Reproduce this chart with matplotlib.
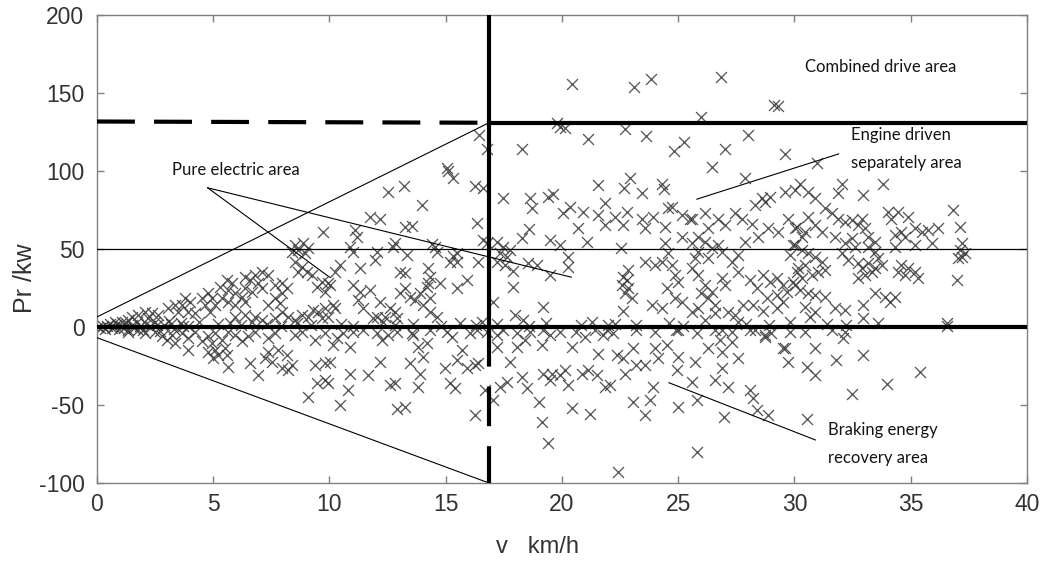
import numpy as np
import matplotlib
matplotlib.use("Agg")
import matplotlib.pyplot as plt

plt.rcParams["axes.unicode_minus"] = False

# ---- operating points: vehicle speed (km/h) and required power (kW) ----
# low-speed traction points (0-20 km/h, P > 0)
low_drive_v = [0.05, 0.15, 0.25, 0.35, 0.45, 0.55, 0.65, 0.75, 0.85, 0.95, 1.05, 1.15, 1.25, 1.35,
               1.5, 1.6, 1.7, 1.85, 2.0, 2.1, 2.3, 2.5, 2.7, 2.9, 3.1, 3.3, 3.6, 3.9,
               2.6, 3.2, 3.7, 4.4, 5.2, 5.7, 6.2, 7.3, 7.9, 8.6, 9.2, 10.5, 11.0, 12.8, 13.6,
               14.8, 15.6, 16.3, 17.2, 18.6, 19.3, 20.8,
               9.73, 8.52, 8.87, 8.37, 8.66, 8.95, 9.09, 8.52, 8.8, 9.02, 8.66,
               7.66, 7.94, 8.16, 7.94, 9.23, 9.66, 9.45, 9.81, 9.95,
               7.08, 7.37, 6.8, 6.58, 6.37, 6.94, 7.08, 6.65, 6.37,
               5.58, 5.79, 5.29, 5.65, 5.94, 5.36, 5.65, 6.22, 6.37, 5.94,
               4.79, 4.93, 4.5, 4.65, 5.08, 4.86,
               3.78, 4.0, 3.64, 3.35, 3.07, 3.5, 3.93, 4.22,
               2.06, 2.35, 1.78, 1.49, 2.64, 2.21, 1.35, 1.06, 0.77,
               9.3, 9.52, 9.81, 9.09, 9.66, 9.95,
               7.94, 8.23, 7.66, 8.52, 8.8,
               5.94, 6.37, 6.8, 7.08, 6.65,
               7.66, 7.87, 7.37,
               15.11, 15.33, 12.53, 13.2, 13.97, 16.26, 16.62, 17.48, 18.62, 18.7, 19.41, 19.63,
               20.06, 11.74, 12.17, 16.33, 13.25, 13.54, 11.1, 11.17, 12.82, 12.74, 14.4, 14.54,
               16.62, 16.76, 17.19, 17.48, 17.76, 17.33, 17.62, 18.27, 18.59, 19.48, 19.91,
               10.88, 11.03, 12.03, 11.96, 13.32, 14.61, 15.33, 15.47, 15.18, 15.47, 16.4,
               17.19, 17.55, 17.9, 18.55, 18.91, 19.48, 10.45, 10.24, 11.31, 13.03, 13.25,
               14.25, 14.32, 14.75, 14.25, 15.9, 15.47, 17.9, 19.2, 17.05, 17.98, 18.34,
               10.02, 10.16, 10.24, 11.02, 11.31, 11.74, 11.24, 11.45, 12.03, 12.31,
               13.03, 13.25, 13.46, 13.68, 13.89, 14.18, 14.32, 14.04, 14.32, 14.61,
               12.17, 12.6, 12.82, 12.89, 11.88, 12.39, 16.55,
               16.44, 16.76, 18.27, 15.04, 19.77, 19.91]
low_drive_p = [0.3, -0.5, 1.0, -1.2, 0.6, 1.8, -0.8, 0.2, 2.2, -1.5, 1.0, -0.3, 2.5, -2.0,
               1.4, -0.9, 3.0, 0.5, -1.8, 2.0, 0.8, 3.5, -2.5, 1.2, 4.0, -1.0, 2.8, 0.6,
               1.5, 2.2, 1.0, 3.0, 1.8, 2.6, 1.2, 2.0, 1.0, 2.4, 1.5, 2.0, 1.0, 1.6, 2.2,
               1.0, 2.6, 1.2, 1.8, 1.0, 2.4, 1.6,
               61.1, 52.6, 53.7, 48.3, 49.4, 47.2, 50.4, 41.9, 38.7, 35.5, 35.5,
               26.9, 28.0, 24.8, 21.6, 33.3, 29.0, 25.8, 22.6, 28.0,
               35.5, 33.3, 33.3, 30.1, 32.2, 28.0, 24.8, 22.6, 24.8,
               30.1, 28.0, 25.8, 23.7, 21.6, 18.4, 16.2, 19.4, 16.2, 14.1,
               21.6, 18.4, 18.4, 14.1, 14.1, 9.8,
               18.4, 16.2, 14.1, 14.1, 12.0, 9.8, 9.8, 8.8,
               9.8, 8.8, 7.7, 6.6, 7.7, 5.6, 4.5, 3.4, 3.4,
               10.9, 9.8, 12.0, 6.6, 5.6, 6.6,
               9.8, 6.6, 5.6, 4.5, 7.7,
               6.6, 7.7, 6.6, 4.5, 3.4,
               18.4, 15.2, 14.1,
               100.0, 95.7, 86.7, 90.6, 78.2, 90.6, 89.3, 82.9, 82.9, 76.5, 83.5, 85.0,
               72.9, 70.7, 69.2, 66.5, 64.3, 64.7, 62.2, 57.9, 53.7, 51.5, 53.0, 51.5,
               55.8, 53.7, 54.7, 51.5, 49.4, 47.2, 45.1, 57.3, 62.8, 55.8, 52.6,
               51.5, 48.3, 48.3, 42.9, 46.2, 47.9, 45.7, 47.2, 41.5, 41.9, 41.9,
               41.9, 39.7, 35.9, 40.8, 39.7, 33.3, 39.7, 35.4, 38.0, 35.0, 34.4,
               37.6, 32.2, 28.0, 28.0, 30.1, 24.8, 25.8, 13.0, 16.2, 7.7, 4.5,
               26.9, 14.1, 12.0, 26.9, 22.6, 23.7, 17.3, 12.0, 6.6, 3.4,
               21.6, 24.8, 19.4, 17.3, 21.6, 25.8, 18.4, 14.1, 9.8, 6.6,
               16.2, 12.0, 9.8, 5.6, 5.6, 6.6, 3.4,
               123.0, 113.9, 113.9, 101.7, 130.6, 128.4]

# low-speed braking points (0-20 km/h, P < 0)
low_brake_v = [1.35, 1.78, 2.06, 2.49, 2.78, 2.99, 3.21, 3.35, 3.64, 3.93, 4.22, 4.5, 4.79,
               5.08, 5.36, 5.65, 5.94, 6.22, 6.51, 6.8, 7.37, 7.66, 8.52, 8.8, 9.38, 9.81,
               3.93, 4.93, 5.08, 5.0, 4.79, 5.22, 5.5, 5.58, 5.65,
               6.58, 6.94, 7.23, 7.37, 7.51, 7.8, 7.94, 8.16, 8.37, 8.23,
               9.09, 9.38, 9.81, 9.45, 9.81, 9.95,
               11.45, 12.03, 12.89, 13.6, 14.32, 15.04, 16.04, 16.33, 16.76, 17.19, 17.48,
               18.05, 18.62, 19.2, 19.48, 19.91,
               10.31, 10.16, 10.59, 11.02, 10.88, 10.02, 10.88, 11.67, 12.17, 10.81, 10.45,
               12.24, 12.53, 13.54, 13.46, 13.82, 14.18, 14.04, 13.89,
               12.6, 12.82, 13.82, 12.89, 13.25,
               14.97, 15.18, 15.4, 15.47, 15.69, 15.9, 16.26, 16.4, 15.25, 16.26,
               16.69, 17.05, 17.33, 17.62, 17.19, 17.76, 18.05, 18.41, 18.27, 18.48,
               19.13, 19.2, 19.48, 19.56, 19.91, 19.0, 19.13, 19.41]
low_brake_p = [-3, -2, -4, -3, -6, -8, -5, -10, -4, -7, -3, -9, -6,
               -4, -8, -3, -5, -9, -6, -3, -7, -4, -5, -3, -8, -4,
               -14.7, -10.5, -14.7, -20.1, -15.8, -18.0, -13.7, -18.0, -25.4,
               -23.3, -30.8, -20.1, -15.8, -22.2, -14.7, -26.5, -18.0, -24.4, -27.6,
               -44.7, -24.4, -23.3, -36.1, -33.9, -36.1,
               -2, -4, -3, -5, -2, -3, -4, -2, -3, -5, -2,
               -4, -3, -2, -5, -3,
               -7.3, -11.5, -4.1, -3.0, -12.6, -22.2, -29.8, -30.8, -22.2, -40.5, -50.1,
               -8.4, -5.2, -4.1, -23.3, -12.6, -10.5, -19.0, -29.8,
               -37.2, -36.1, -38.3, -52.3, -51.2,
               -26.5, -36.1, -39.3, -21.2, -14.7, -26.5, -24.4, -23.3, -6.2, -56.4,
               -40.5, -46.9, -38.3, -35.1, -12.6, -22.2, -12.6, -8.4, -31.9, -39.3,
               -11.5, -29.8, -34.1, -29.8, -30.8, -47.9, -60.7, -74.6]

# high-speed traction points (20-40 km/h, P > 0)
high_drive_v = [20.44, 23.1, 23.83, 26.82, 26.0, 29.13, 29.3, 20.13, 21.1, 22.7, 23.6,
                24.83, 25.26, 27.0, 27.99, 29.6, 26.44, 30.95,
                21.57, 22.93, 22.68, 23.43, 24.29, 24.4, 27.87,
                20.34, 20.92, 21.85, 21.56, 22.28, 21.85, 22.78, 22.64, 23.43, 23.57, 23.93,
                24.43, 24.57, 24.72, 25.15, 25.5, 25.58,
                20.7, 21.06, 20.27, 20.27, 22.54,
                26.15, 26.72, 26.29, 27.01, 27.44, 27.73, 28.16, 28.59, 28.73, 28.95, 28.3,
                29.59, 30.02, 29.73, 28.87, 29.3, 30.02, 28.44,
                25.15, 25.58, 25.86, 26.15, 26.44, 26.72, 26.87, 25.86, 25.72, 26.29, 27.3,
                27.58, 27.87, 27.58, 24.43, 24.57, 24.29,
                23.57, 24.0, 24.72, 24.86, 25.0, 24.5,
                22.85, 22.64, 22.78, 22.57, 22.85, 22.71, 23.0, 22.64, 23.86, 24.29,
                25.58, 25.86, 26.15, 26.0, 26.44, 26.87, 27.01, 26.29, 26.58, 25.86, 25.58,
                25.15, 24.86, 26.58, 26.15, 27.16, 27.44, 27.58,
                28.08, 28.37, 28.66, 28.95, 29.23, 29.52, 29.66, 29.23, 28.8, 28.23, 28.66,
                29.23, 29.52, 29.95, 30.09, 29.81, 29.95, 27.8,
                21.27, 21.99,
                30.24, 30.59, 30.88, 32.03, 31.88, 32.96, 33.82,
                31.31, 31.6, 31.88, 32.17, 32.46, 32.75, 33.03, 32.89, 30.59, 30.88, 30.45,
                31.17, 31.74, 30.09, 30.31,
                34.03, 34.46, 34.17, 34.89, 35.18, 34.6, 34.32, 34.75, 35.47, 35.75, 36.18,
                35.9, 35.18, 34.32,
                36.83, 37.12, 37.19, 37.12, 37.33, 37.05, 37.19, 36.97,
                33.17, 33.46, 33.17, 33.46, 33.6, 33.75, 33.46, 33.32, 33.03, 32.75, 32.75,
                32.89, 33.17,
                32.6, 32.46, 32.17, 32.03, 32.32,
                30.02, 30.31, 30.59, 30.88, 31.17, 31.31, 31.02, 30.74, 30.45, 30.16, 30.31,
                30.02, 30.24, 30.59, 30.88, 31.31, 30.45, 30.88, 31.74, 32.17, 32.96, 32.96,
                30.67,
                34.6, 34.89, 34.75, 35.18, 35.32, 34.46, 33.46, 33.89, 34.1, 34.32,
                36.54, 36.55,
                22.3, 23.2, 24.6, 25.2, 27.9, 28.9, 29.8, 31.4, 32.2, 33.6]
high_drive_p = [155.8, 154.0, 158.8, 160.5, 134.8, 142.7, 141.7, 127.4, 120.3, 126.9, 122.4,
                112.8, 118.4, 113.9, 123.0, 110.9, 102.8, 104.9,
                91.4, 95.3, 89.3, 85.7, 91.9, 88.3, 95.3,
                77.2, 73.9, 79.3, 71.8, 70.7, 65.3, 73.9, 65.3, 69.6, 63.2, 70.7,
                64.3, 76.1, 77.2, 72.0, 69.6, 69.6,
                63.2, 54.7, 45.1, 38.7, 50.4,
                72.9, 69.6, 63.2, 65.3, 72.9, 69.6, 66.4, 82.5, 80.3, 83.5, 78.2,
                86.8, 87.8, 69.6, 63.2, 61.1, 63.2, 57.9,
                57.9, 53.6, 57.9, 54.7, 50.4, 52.5, 48.3, 48.3, 44.0, 44.0, 41.9,
                46.2, 54.7, 35.5, 53.6, 47.2, 41.9,
                41.9, 39.7, 39.7, 33.4, 29.1, 24.8,
                36.5, 32.3, 30.1, 26.9, 24.8, 21.6, 18.4, 10.0, 14.2, 12.0,
                37.6, 33.4, 26.9, 21.6, 22.6, 31.2, 26.9, 18.4, 14.2, 12.0, 9.9,
                16.3, 18.4, 8.8, 4.5, 9.9, 7.7, 3.4,
                30.1, 24.8, 33.4, 29.1, 31.2, 26.9, 22.6, 20.6, 18.4, 14.2, 10.0,
                12.0, 16.3, 29.1, 35.5, 46.2, 52.5, 14.2,
                3.4, 1.3,
                92.0, 86.7, 82.5, 92.0, 85.7, 84.6, 92.0,
                76.1, 72.9, 69.6, 67.5, 68.5, 65.3, 63.2, 69.6, 70.7, 65.3, 61.1,
                61.1, 57.9, 64.3, 57.9,
                74.0, 74.0, 69.6, 70.7, 63.2, 61.1, 58.9, 57.9, 61.1, 62.1, 63.2,
                53.6, 52.6, 51.5,
                75.0, 64.3, 53.6, 49.4, 47.2, 44.0, 45.1, 30.1,
                57.9, 54.7, 51.5, 48.3, 44.0, 39.8, 37.6, 35.5, 33.4, 31.2, 40.8,
                37.6, 40.8,
                51.5, 56.8, 53.6, 47.2, 42.9,
                52.6, 49.4, 47.2, 45.1, 41.9, 36.5, 35.5, 33.4, 39.7, 37.6, 31.2,
                26.9, 23.7, 21.6, 20.5, 19.5, 13.1, 9.9, 12.0, 11.0, 14.2, 5.6,
                6.7,
                39.7, 37.6, 33.4, 35.5, 31.2, 35.5, 21.6, 19.5, 16.3, 19.5,
                2.4, 0.4,
                2.0, 1.2, 2.6, 1.0, 2.0, 1.4, 3.0, 2.0, 1.5, 2.5]

# high-speed braking points (20-40 km/h, P < 0)
high_brake_v = [20.42, 20.99, 21.77, 21.92,
                20.13, 20.27, 20.84, 21.13, 21.49, 21.85, 22.06, 21.56, 22.35, 22.63, 23.06,
                22.71, 23.2, 23.55, 23.98, 24.13, 23.91,
                20.42, 21.2, 23.06, 23.78, 23.57, 22.43,
                24.5, 25.0, 24.93, 25.72, 25.58, 25.79, 25.0, 26.29, 26.8, 26.87, 27.3, 27.58,
                26.87, 26.58, 27.16, 26.95, 25.79, 28.08, 28.23, 28.37, 28.87, 28.73, 28.08,
                28.73, 29.59, 29.52, 29.73, 26.87, 25.0,
                30.45, 31.6, 32.17, 32.1, 30.88, 31.8, 32.95, 30.52, 30.88, 35.4, 33.97, 32.47,
                30.52,
                20.6, 21.4, 22.2, 23.2, 24.0, 24.9, 25.8, 26.6, 27.3, 28.3, 29.0, 29.8]
high_brake_p = [-12.6, -6.2, -5.2, -2.0,
                -27.6, -37.2, -29.8, -27.6, -30.8, -38.3, -37.2, -17.0, -18.0, -20.1, -13.7,
                -29.8, -24.4, -24.4, -13.7, -20.1, -38.3,
                -52.1, -56.0, -47.9, -46.9, -56.4, -92.7,
                -11.5, -18.9, -27.4, -22.2, -35.0, -46.7, -51.0, -13.6, -8.3, -15.8, -9.4, -20.0,
                -26.4, -33.9, -38.2, -57.4, -79.9, -40.3, -45.7, -53.1, -56.3, -5.1, -1.9,
                -6.2, -13.6, -13.6, -22.2, -1.9, -1.9,
                -3.0, -2.0, -3.0, -7.3, -13.7, -21.2, -18.0, -25.4, -30.8, -28.6, -36.8, -43.2,
                -59.0,
                -3, -2, -4, -2, -3, -2, -4, -2, -3, -2, -4, -3]

# ---- mode boundaries ----
v_switch = 16.86        # speed limit of pure electric driving
p_motor_max = 131.0     # peak motor power
p_engine_opt = 50.0     # engine optimum power line
p_min_regen = -100.0

x_ticks = [0, 5, 10, 15, 20, 25, 30, 35, 40]
y_ticks = [-100, -50, 0, 50, 100, 150, 200]

v_all = np.concatenate([low_drive_v, low_brake_v, high_drive_v, high_brake_v])
p_all = np.concatenate([low_drive_p, low_brake_p, high_drive_p, high_brake_p])

fig = plt.figure(figsize=(10.44, 5.61), dpi=100)
ax = fig.add_axes([0.0929, 0.139, 0.8908, 0.834])

ax.scatter(v_all, p_all, marker="x", s=62, linewidths=0.95,
           color="#3a3a3a", alpha=0.85, zorder=2)

thick = 3.0
# zero-power line and upper limit lines
ax.plot([0, 40], [0, 0], color="black", lw=thick, zorder=3, solid_capstyle="butt")
ax.plot([v_switch, 40], [p_motor_max, p_motor_max], color="black", lw=thick, zorder=3)
ax.plot([0, v_switch], [p_motor_max + 0.8, p_motor_max], color="black", lw=thick,
        dashes=(9.1, 4.6), dash_capstyle="butt", zorder=3)
ax.plot([v_switch, v_switch], [0, 200], color="black", lw=thick, zorder=3)
ax.plot([v_switch, v_switch], [0, p_min_regen], color="black", lw=thick,
        dashes=(9.5, 4.8), dash_capstyle="butt", zorder=3)
ax.plot([0, 40], [p_engine_opt, p_engine_opt], color="black", lw=0.9, zorder=3)
# pure-electric wedge
ax.plot([0, v_switch], [6.5, p_motor_max], color="black", lw=0.8, zorder=3)
ax.plot([0, v_switch], [-6.8, p_min_regen], color="black", lw=0.8, zorder=3)

# region annotations
ann_font = dict(family="Lato", fontsize=12, color="#141414")
ax.text(30.45, 166.7, "Combined drive area", va="center", ha="left", **ann_font)
ax.text(3.23, 100.6, "Pure electric area", va="center", ha="left", **ann_font)
ax.plot([4.76, 10.0], [89.3, 32.0], color="black", lw=0.8, zorder=3)
ax.plot([4.76, 20.4], [89.3, 32.0], color="black", lw=0.8, zorder=3)
ax.text(32.45, 123.0, "Engine driven", va="center", ha="left", **ann_font)
ax.text(32.45, 104.9, "separately area", va="center", ha="left", **ann_font)
ax.plot([25.8, 31.9], [82.0, 111.0], color="black", lw=0.8, zorder=3)
ax.text(31.45, -66.0, "Braking energy", va="center", ha="left", **ann_font)
ax.text(31.45, -84.2, "recovery area", va="center", ha="left", **ann_font)
ax.plot([24.6, 30.9], [-35.7, -72.4], color="black", lw=0.8, zorder=3)

ax.set_xlim(0, 40)
ax.set_ylim(-100, 200)
ax.set_xticks(x_ticks)
ax.set_yticks(y_ticks)
ax.tick_params(direction="in", length=5, width=1, color="#808080",
               top=True, right=True, labelsize=16.5, labelcolor="#333333")
ax.tick_params(axis="y", pad=9)
ax.tick_params(axis="x", pad=7)
for lab in ax.get_xticklabels() + ax.get_yticklabels():
    lab.set_family("Liberation Sans")
for sp in ax.spines.values():
    sp.set_color("#808080")
    sp.set_linewidth(1.0)

ax.set_xlabel("v   km/h", fontsize=17, family="Liberation Sans", color="#333333",
              va="center", ha="center")
ax.set_ylabel("Pr /kw", fontsize=18, family="Liberation Sans", color="#333333",
              va="center", ha="center")
ax.xaxis.set_label_coords(0.474, -0.137)
ax.yaxis.set_label_coords(-0.077, 0.438)

fig.savefig("out.png", dpi=100)
